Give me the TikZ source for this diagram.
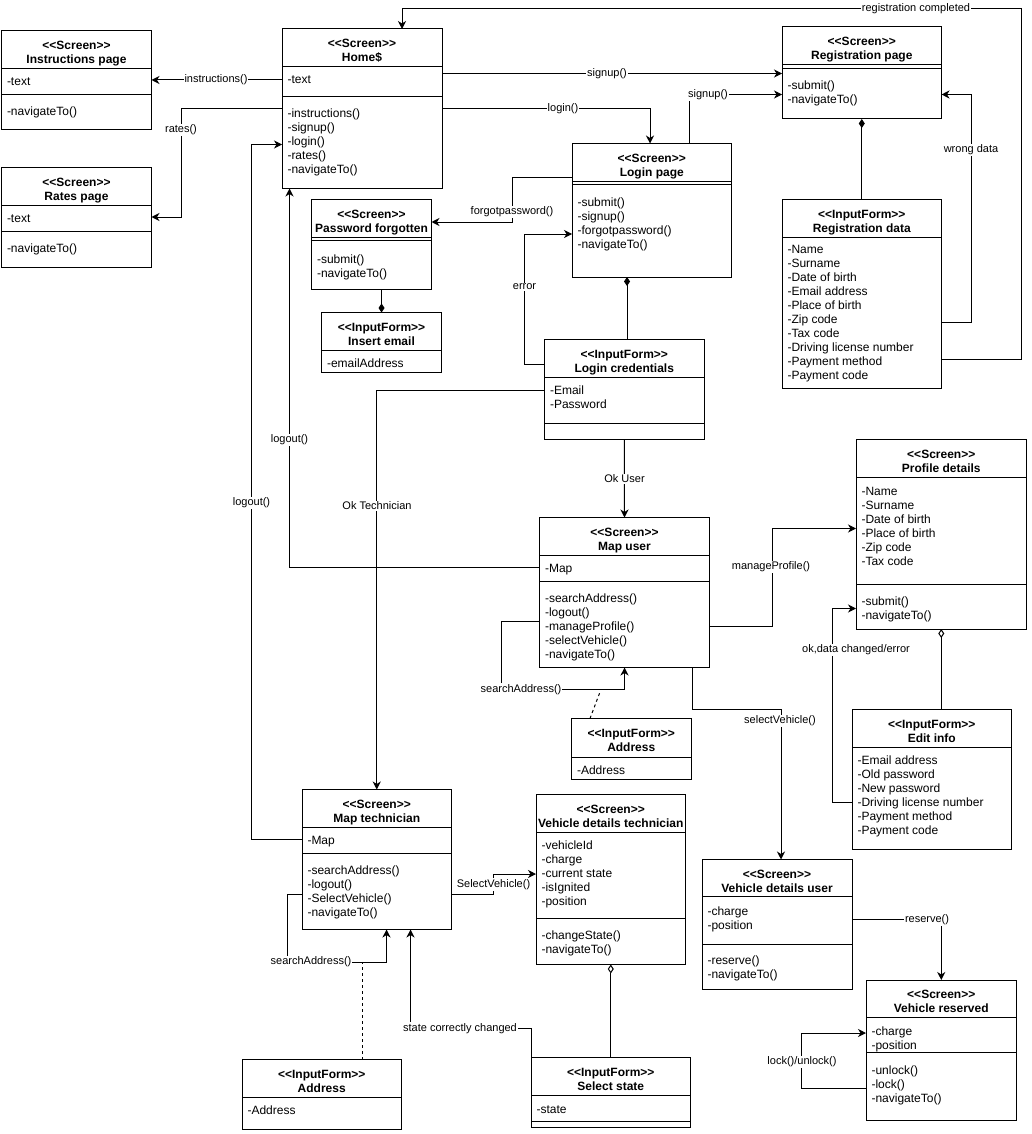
\documentclass[tikz,border=0pt]{standalone}
\usepackage{fontspec}
\setmainfont{Liberation Sans}[Ligatures=TeXOff]
\usetikzlibrary{arrows.meta}

\begin{document}
\begin{tikzpicture}[x=1pt, y=-1pt, line width=1pt,
    box/.style = {draw, anchor=north west, inner sep=0pt, outer sep=0pt},
    hd/.style = {anchor=base, align=center, yshift=-32.8pt, inner sep=0pt,
        font=\fontsize{12}{14}\selectfont\bfseries},
    txt/.style = {anchor=base west, align=left, xshift=5pt, inner sep=0pt,
        font=\fontsize{12}{14}\selectfont},
    lbl/.style = {fill=white, inner sep=1pt, font=\fontsize{11}{13}\selectfont},
    arrowline/.style = {-{Stealth[length=8pt,width=8pt,inset=2.5pt]}},
    compline/.style = {-{Diamond[length=9pt,width=6pt]}},
    aggrline/.style = {-{Diamond[open,length=9pt,width=6pt]}}]
    \fill[white] (0,0) rectangle (1031,1134);
    \useasboundingbox (0,0) rectangle (1031,1134);

    % screens and forms (text nodes sit on the baseline of their last line)
    \node[box, minimum width=160, minimum height=159.5] (home) at (282,29) {};
    \node[hd] (home-h) at (home.north) {<<Screen>>\\Home\$};
    \draw (home.west |- 0,66.5) -- (home.east |- 0,66.5);
    \draw (home.west |- 0,96.5) -- (home.east |- 0,96.5);
    \node[txt] (home-a) at (home.west |- 0,84) {-text};
    \node[txt] (home-m) at (home.west |- 0,173.5) {-instructions()\\-signup()\\-login()\\-rates()\\-navigateTo()};

    \node[box, minimum width=150, minimum height=99.5] (instr) at (1.5,30.5) {};
    \node[hd] (instr-h) at (instr.north) {<<Screen>>\\Instructions page};
    \draw (instr.west |- 0,68.5) -- (instr.east |- 0,68.5);
    \draw (instr.west |- 0,94.5) -- (instr.east |- 0,94.5);
    \node[txt] (instr-a) at (instr.west |- 0,85.5) {-text};
    \node[txt] (instr-m) at (instr.west |- 0,115.5) {-navigateTo()};

    \node[box, minimum width=150, minimum height=100] (rates) at (1.5,167.5) {};
    \node[hd] (rates-h) at (rates.north) {<<Screen>>\\Rates page};
    \draw (rates.west |- 0,205.5) -- (rates.east |- 0,205.5);
    \draw (rates.west |- 0,231.5) -- (rates.east |- 0,231.5);
    \node[txt] (rates-a) at (rates.west |- 0,222.5) {-text};
    \node[txt] (rates-m) at (rates.west |- 0,252.5) {-navigateTo()};

    \node[box, minimum width=120, minimum height=89.5] (pf) at (311.5,199.5) {};
    \node[hd] (pf-h) at (pf.north) {<<Screen>>\\Password forgotten};
    \draw (pf.west |- 0,237.5) -- (pf.east |- 0,237.5);
    \draw (pf.west |- 0,240.5) -- (pf.east |- 0,240.5);
    \node[txt] (pf-m) at (pf.west |- 0,277) {-submit()\\-navigateTo()};

    \node[box, minimum width=120, minimum height=60] (insert) at (321.5,312.5) {};
    \node[hd] (insert-h) at (insert.north) {<<InputForm>>\\Insert email};
    \draw (insert.west |- 0,350.5) -- (insert.east |- 0,350.5);
    \node[txt] (insert-a) at (insert.west |- 0,367) {-emailAddress};

    \node[box, minimum width=159.5, minimum height=92] (reg) at (782,27) {};
    \node[hd] (reg-h) at (reg.north) {<<Screen>>\\Registration page};
    \draw (reg.west |- 0,64.5) -- (reg.east |- 0,64.5);
    \draw (reg.west |- 0,68.5) -- (reg.east |- 0,68.5);
    \node[txt] (reg-m) at (reg.west |- 0,104) {-submit()\\-navigateTo()};

    \node[box, minimum width=159.5, minimum height=188.5] (regdata) at (782,199.5) {};
    \node[hd] (regdata-h) at (regdata.north) {<<InputForm>>\\Registration data};
    \draw (regdata.west |- 0,237.5) -- (regdata.east |- 0,237.5);
    \node[txt] (regdata-a) at (regdata.west |- 0,379.5) {-Name\\-Surname\\-Date of birth\\-Email address\\-Place of birth\\-Zip code\\-Tax code\\-Driving license number\\-Payment method\\-Payment code};

    \node[box, minimum width=159.5, minimum height=133.5] (login) at (572,143.5) {};
    \node[hd] (login-h) at (login.north) {<<Screen>>\\Login page};
    \draw (login.west |- 0,181.5) -- (login.east |- 0,181.5);
    \draw (login.west |- 0,185) -- (login.east |- 0,185);
    \node[txt] (login-m) at (login.west |- 0,248.5) {-submit()\\-signup()\\-forgotpassword()\\-navigateTo()};

    \node[box, minimum width=159.5, minimum height=100] (lc) at (544.5,339.5) {};
    \node[hd] (lc-h) at (lc.north) {<<InputForm>>\\Login credentials};
    \draw (lc.west |- 0,377.5) -- (lc.east |- 0,377.5);
    \draw (lc.west |- 0,423.5) -- (lc.east |- 0,423.5);
    \node[txt] (lc-a) at (lc.west |- 0,408) {-Email\\-Password};

    \node[box, minimum width=170, minimum height=150] (mapu) at (539.5,517.5) {};
    \node[hd] (mapu-h) at (mapu.north) {<<Screen>>\\Map user};
    \draw (mapu.west |- 0,555.5) -- (mapu.east |- 0,555.5);
    \draw (mapu.west |- 0,581.5) -- (mapu.east |- 0,581.5);
    \node[txt] (mapu-a) at (mapu.west |- 0,572.5) {-Map};
    \node[txt] (mapu-m) at (mapu.west |- 0,658.5) {-searchAddress()\\-logout()\\-manageProfile()\\-selectVehicle()\\-navigateTo()};

    \node[box, minimum width=119.5, minimum height=60.5] (addru) at (571.5,718.5) {};
    \node[hd] (addru-h) at (addru.north) {<<InputForm>>\\Address};
    \draw (addru.west |- 0,757.5) -- (addru.east |- 0,757.5);
    \node[txt] (addru-a) at (addru.west |- 0,774.5) {-Address};

    \node[box, minimum width=170.5, minimum height=189.5] (prof) at (856,439.5) {};
    \node[hd] (prof-h) at (prof.north) {<<Screen>>\\Profile details};
    \draw (prof.west |- 0,477.5) -- (prof.east |- 0,477.5);
    \draw (prof.west |- 0,584) -- (prof.east |- 0,584);
    \node[txt] (prof-a) at (prof.west |- 0,565) {-Name\\-Surname\\-Date of birth\\-Place of birth\\-Zip code\\-Tax code};
    \node[txt] (prof-m) at (prof.west |- 0,619) {-submit()\\-navigateTo()};

    \node[box, minimum width=159.5, minimum height=139.5] (edit) at (852,709.5) {};
    \node[hd] (edit-h) at (edit.north) {<<InputForm>>\\Edit info};
    \draw (edit.west |- 0,747.5) -- (edit.east |- 0,747.5);
    \node[txt] (edit-a) at (edit.west |- 0,834.5) {-Email address\\-Old password\\-New password\\-Driving license number\\-Payment method\\-Payment code};

    \node[box, minimum width=150, minimum height=129.5] (vdu) at (702,859.5) {};
    \node[hd] (vdu-h) at (vdu.north) {<<Screen>>\\Vehicle details user};
    \draw (vdu.west |- 0,896.5) -- (vdu.east |- 0,896.5);
    \draw (vdu.west |- 0,944) -- (vdu.east |- 0,944);
    \node[txt] (vdu-a) at (vdu.west |- 0,929) {-charge\\-position};
    \node[txt] (vdu-m) at (vdu.west |- 0,978) {-reserve()\\-navigateTo()};

    \node[box, minimum width=150.5, minimum height=140] (vres) at (866,980) {};
    \node[hd] (vres-h) at (vres.north) {<<Screen>>\\Vehicle reserved};
    \draw (vres.west |- 0,1017.5) -- (vres.east |- 0,1017.5);
    \draw (vres.west |- 0,1052.5) -- (vres.east |- 0,1052.5);
    \node[txt] (vres-a) at (vres.west |- 0,1049.5) {-charge\\-position};
    \node[txt] (vres-m) at (vres.west |- 0,1102.5) {-unlock()\\-lock()\\-navigateTo()};

    \node[box, minimum width=149.5, minimum height=140] (mapt) at (302,789.5) {};
    \node[hd] (mapt-h) at (mapt.north) {<<Screen>>\\Map technician};
    \draw (mapt.west |- 0,827.5) -- (mapt.east |- 0,827.5);
    \draw (mapt.west |- 0,853.5) -- (mapt.east |- 0,853.5);
    \node[txt] (mapt-a) at (mapt.west |- 0,844.5) {-Map};
    \node[txt] (mapt-m) at (mapt.west |- 0,916.5) {-searchAddress()\\-logout()\\-SelectVehicle()\\-navigateTo()};

    \node[box, minimum width=149.5, minimum height=170] (vdt) at (536,794.5) {};
    \node[hd] (vdt-h) at (vdt.north) {<<Screen>>\\Vehicle details technician};
    \draw (vdt.west |- 0,832.5) -- (vdt.east |- 0,832.5);
    \draw (vdt.west |- 0,918.5) -- (vdt.east |- 0,918.5);
    \node[txt] (vdt-a) at (vdt.west |- 0,905.5) {-vehicleId\\-charge\\-current state\\-isIgnited\\-position};
    \node[txt] (vdt-m) at (vdt.west |- 0,953.5) {-changeState()\\-navigateTo()};

    \node[box, minimum width=159.5, minimum height=69.5] (sel) at (531,1057.5) {};
    \node[hd] (sel-h) at (sel.north) {<<InputForm>>\\Select state};
    \draw (sel.west |- 0,1095) -- (sel.east |- 0,1095);
    \draw (sel.west |- 0,1121.5) -- (sel.east |- 0,1121.5);
    \node[txt] (sel-a) at (sel.west |- 0,1113) {-state};

    \node[box, minimum width=159.5, minimum height=70] (addrt) at (242,1059.5) {};
    \node[hd] (addrt-h) at (addrt.north) {<<InputForm>>\\Address};
    \draw (addrt.west |- 0,1097.5) -- (addrt.east |- 0,1097.5);
    \node[txt] (addrt-a) at (addrt.west |- 0,1114.5) {-Address};

    % transitions
    \draw[arrowline] (home.west |- 0,80) -- (instr.east |- 0,80);
    \node[lbl] (l-instr) at (216,80) {instructions()};
    \draw[arrowline] (home.west |- 0,109) -| (181,217) -- (rates.east |- 0,217);
    \node[lbl] (l-rates) at (181,130) {rates()};
    \draw[arrowline] (home.east |- 0,73.5) -- (reg.west |- 0,73.5);
    \node[lbl] (l-signup1) at (607,74) {signup()};
    \draw[arrowline] (home.east |- 0,108.5) -| (login.north -| 650,0);
    \node[lbl] (l-login) at (563,108.5) {login()};
    \draw[arrowline] (login.north -| 689,0) |- (reg.west |- 0,94.5);
    \node[lbl] (l-signup2) at (708,95) {signup()};
    \draw[arrowline] (login.west |- 0,177.5) -| (512,222) -- (pf.east |- 0,222);
    \node[lbl] (l-forgot) at (512,212) {forgotpassword()};
    \draw[arrowline] (lc.west |- 0,364.5) -| (524.5,234) -- (login.west |- 0,234);
    \node[lbl] (l-error) at (524.5,287) {error};
    \draw[compline] (lc.north -| 627,0) -- (login.south -| 627,0);
    \draw[compline] (regdata.north) -- (reg.south);
    \draw[arrowline] (regdata.east |- 0,322) -| (971,94.5) -- (reg.east |- 0,94.5);
    \node[lbl] (l-wrong) at (971,150) {wrong data};
    \draw[arrowline] (regdata.east |- 0,359) -| (1021,9) -| (home.north -| 402,0);
    \node[lbl] (l-done) at (916,9) {registration completed};
    \draw[compline] (insert.north |- pf.south) -- (insert.north);
    \draw[arrowline] (lc.south) -- (mapu.north);
    \node[lbl] (l-okuser) at (624.5,479) {Ok User};
    \draw[arrowline] (lc.west |- 0,390) -| (mapt.north);
    \node[lbl] (l-oktech) at (377,506) {Ok Technician};
    \draw[arrowline] (mapu.west |- 0,567) -| (home.south -| 289.5,0);
    \node[lbl] (l-logout1) at (289.5,440) {logout()};
    \draw[arrowline] (mapt.west |- 0,839) -| (251.5,144.5) -- (home.west |- 0,144.5);
    \node[lbl] (l-logout2) at (251.5,503) {logout()};
    \draw[arrowline] (mapu.west |- 0,621.5) -| (501.5,689.5) -| (mapu.south -| 624.5,0);
    \node[lbl] (l-search1) at (521,689.5) {searchAddress()};
    \draw[dashed] (addru.north -| 590,0) -- (600,692);
    \draw[arrowline] (mapu.east |- 0,626.5) -| (772,528.5) -- (prof.west |- 0,528.5);
    \node[lbl] (l-profile) at (771,567) {manageProfile()};
    \draw[arrowline] (mapu.south -| 692.5,0) |- (781,709) -- (vdu.north -| 781,0);
    \node[lbl] (l-select1) at (780,721) {selectVehicle()};
    \draw[aggrline] (prof.south |- edit.north) -- (prof.south);
    \draw[arrowline] (edit.west |- 0,802.5) -| (832,608.5) -- (prof.west |- 0,608.5);
    \node[lbl] (l-changed) at (856,650) {ok,data changed/error};
    \draw[arrowline] (vdu.east |- 0,919.5) -| (vres.north);
    \node[lbl] (l-reserve) at (927,919.5) {reserve()};
    \draw[arrowline] (vres.west |- 0,1088) -| (801,1033) -- (vres.west |- 0,1033);
    \node[lbl] (l-lock) at (802,1062) {lock()/unlock()};
    \draw[arrowline] (mapt.east |- 0,894) -| (493.5,874) -- (vdt.west |- 0,874);
    \node[lbl] (l-select2) at (493.5,884.5) {SelectVehicle()};
    \draw[arrowline] (mapt.west |- 0,894) -| (287,962) -| (mapt.south -| 386.5,0);
    \node[lbl] (l-search2) at (311,962) {searchAddress()};
    \draw[dashed] (addrt.north -| 362,0) -- (362,962);
    \draw[arrowline] (sel.north west) |- (410.5,1028.5) -- (mapt.south -| 410.5,0);
    \node[lbl] (l-state) at (460,1028.5) {state correctly changed};
    \draw[aggrline] (sel.north) -- (vdt.south);
\end{tikzpicture}
\end{document}
